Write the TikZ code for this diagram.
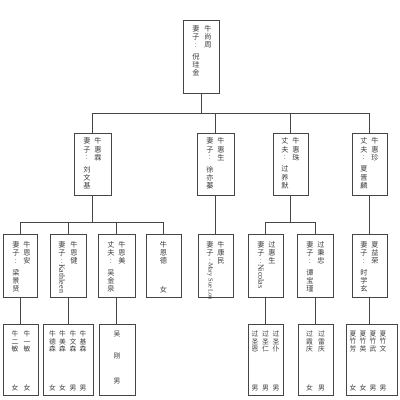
\documentclass[tikz,border=0pt]{standalone}
\usepackage{fontspec}
\setmainfont{Liberation Serif}
\newfontfamily\cjk{Noto Sans CJK SC}
\definecolor{linec}{HTML}{454545}
\definecolor{txtc}{HTML}{3C3C3C}
\newcommand\vcolon{\raisebox{0.4pt}{:}}
\begin{document}
\begin{tikzpicture}[x=1pt,y=-1pt,
  bx/.style={draw=linec,line width=0.9pt,inner sep=0pt},
  col/.style={font=\cjk\fontsize{7.2}{8.2}\selectfont,text=txtc,inner sep=0pt,align=center,anchor=north},
  scol/.style={font=\cjk\fontsize{6.8}{7.3}\selectfont,text=txtc,inner sep=0pt,align=center,anchor=north},
  lat/.style={font=\fontsize{8}{9}\selectfont,text=txtc,inner sep=0pt,rotate=-90,anchor=west},
  conn/.style={draw=linec,line width=0.9pt}]
\useasboundingbox (0,0) rectangle (400,400);
% ---------- boxes ----------
\node[bx,minimum width=36pt,minimum height=73pt] (A) at (201,56.5) {};
\node[bx,minimum width=37pt,minimum height=62pt] (B1) at (92.5,164) {};
\node[bx,minimum width=37pt,minimum height=62pt] (B2) at (215.5,164) {};
\node[bx,minimum width=35pt,minimum height=62pt] (B3) at (290.5,164) {};
\node[bx,minimum width=35pt,minimum height=62pt] (B4) at (369.5,164) {};
\node[bx,minimum width=34pt,minimum height=63pt] (C1) at (20,265.5) {};
\node[bx,minimum width=36pt,minimum height=63pt] (C2) at (68,265.5) {};
\node[bx,minimum width=37pt,minimum height=63pt] (C3) at (116.5,265.5) {};
\node[bx,minimum width=35pt,minimum height=63pt] (C4) at (163.5,265.5) {};
\node[bx,minimum width=35pt,minimum height=63pt] (C5) at (215.5,265.5) {};
\node[bx,minimum width=35pt,minimum height=63pt] (C6) at (265.5,265.5) {};
\node[bx,minimum width=36pt,minimum height=63pt] (C7) at (315,265.5) {};
\node[bx,minimum width=35pt,minimum height=63pt] (C8) at (369.5,265.5) {};
\node[bx,minimum width=35pt,minimum height=71pt] (D1) at (20.5,359.5) {};
\node[bx,minimum width=50pt,minimum height=71pt] (D2) at (68,359.5) {};
\node[bx,minimum width=36pt,minimum height=71pt] (D3) at (117,359.5) {};
\node[bx,minimum width=35pt,minimum height=71pt] (D4) at (265.5,359.5) {};
\node[bx,minimum width=35pt,minimum height=71pt] (D5) at (315.5,359.5) {};
\node[bx,minimum width=51pt,minimum height=71pt] (D6) at (371.5,359.5) {};
% ---------- connectors ----------
\draw[conn] (A.south) -- ++(0,20) coordinate (jA);
\draw[conn] (B1.north) |- (jA);
\draw[conn] (B2.north) |- (jA);
\draw[conn] (B3.north) |- (jA);
\draw[conn] (B4.north) |- (jA);
\draw[conn] (B1.south) -- ++(0,27) coordinate (jB1);
\draw[conn] (C1.north) |- (jB1);
\draw[conn] (C2.north) |- (jB1);
\draw[conn] (C3.north) |- (jB1);
\draw[conn] (C4.north) |- (jB1);
\draw[conn] (B2.south) -- (C5.north);
\draw[conn] (B3.south) -- ++(0,27) coordinate (jB3);
\draw[conn] (C6.north) |- (jB3);
\draw[conn] (C7.north) |- (jB3);
\draw[conn] (B4.south) -- (C8.north);
\draw[conn] (C1.south) -- (C1.south |- D1.north);
\draw[conn] (C2.south) -- (C2.south |- D2.north);
\draw[conn] (C3.south) -- (C3.south |- D3.north);
\draw[conn] (C6.south) -- (C6.south |- D4.north);
\draw[conn] (C7.south) -- (C7.south |- D5.north);
\draw[conn] (C8.south) -- (C8.south |- D6.north);
% ---------- level 1 text ----------
\node[col] (tA1) at (208,25.2) {牛\\尚\\周};
\node[col] (tA2) at (196,25.2) {妻\\子\\\vcolon\\[3.5pt]倪\\珪\\金};
% ---------- level 2 text ----------
\node[col] (tB1a) at (98,137.7) {牛\\惠\\霖};
\node[col] (tB1b) at (87,137.7) {妻\\子\\\vcolon\\[3.5pt]刘\\文\\基};
\node[col] (tB2a) at (221,137.7) {牛\\惠\\生};
\node[col] (tB2b) at (210,137.7) {妻\\子\\\vcolon\\[3.5pt]徐\\亦\\蓁};
\node[col] (tB3a) at (296,137.7) {牛\\惠\\珠};
\node[col] (tB3b) at (285,137.7) {丈\\夫\\\vcolon\\[3.5pt]过\\养\\默};
\node[col] (tB4a) at (375,137.7) {牛\\惠\\珍};
\node[col] (tB4b) at (364,137.7) {丈\\夫\\\vcolon\\[3.5pt]夏\\晋\\麟};
% ---------- level 3 text ----------
\node[col] (tC1a) at (27,241.2) {牛\\恩\\安};
\node[col] (tC1b) at (16,241.2) {妻\\子\\\vcolon\\[3.5pt]梁\\景\\贤};
\node[col] (tC2a) at (74,241.2) {牛\\恩\\健};
\node[col] (tC2b) at (62,241.2) {妻\\子\\\vcolon};
\node[lat] (tC2c) at (62,264) {Kathleen};
\node[col] (tC3a) at (122,241.2) {牛\\恩\\美};
\node[col] (tC3b) at (111,241.2) {丈\\夫\\\vcolon\\[3.5pt]吴\\金\\泉};
\node[col] (tC4a) at (163.5,241.2) {牛\\恩\\德};
\node[col] (tC4b) at (163.5,285.7) {女};
\node[col] (tC5a) at (221,241.2) {牛\\康\\民};
\node[col] (tC5b) at (210,241.2) {妻\\子\\\vcolon};
\node[lat,font=\fontsize{6.4}{7}\selectfont] (tC5c) at (210,263) {Mary Sue Lou};
\node[col] (tC6a) at (272,241.2) {过\\惠\\生};
\node[col] (tC6b) at (261,241.2) {妻\\子\\\vcolon};
\node[lat] (tC6c) at (261,264) {Nicolas};
\node[col] (tC7a) at (321,241.2) {过\\秉\\忠};
\node[col] (tC7b) at (310,241.2) {妻\\子\\\vcolon\\[3.5pt]谭\\宝\\瑾};
\node[col] (tC8a) at (375,241.2) {夏\\益\\荣};
\node[col] (tC8b) at (364,241.2) {妻\\子\\\vcolon\\[3.5pt]时\\学\\玄};
% ---------- level 4 text ----------
\node[scol] (tD1a) at (27,331) {牛\\一\\敏\\[32pt]女};
\node[scol] (tD1b) at (15,331) {牛\\二\\敏\\[32pt]女};
\node[scol] (tD2a) at (83,331) {牛\\基\\森\\[32pt]男};
\node[scol] (tD2b) at (73,331) {牛\\文\\森\\[32pt]男};
\node[scol] (tD2c) at (62.5,331) {牛\\美\\森\\[32pt]女};
\node[scol] (tD2d) at (52.5,331) {牛\\德\\森\\[32pt]女};
\node[scol] (tD3a) at (117,331) {吴\\[14.5pt]刚\\[17.5pt]男};
\node[scol] (tD4a) at (276,331) {过\\圣\\仆\\[32pt]男};
\node[scol] (tD4b) at (265.5,331) {过\\圣\\仁\\[32pt]男};
\node[scol] (tD4c) at (255,331) {过\\圣\\恩\\[32pt]男};
\node[scol] (tD5a) at (321.5,331) {过\\雷\\庆\\[32pt]男};
\node[scol] (tD5b) at (309.5,331) {过\\霞\\庆\\[32pt]女};
\node[scol] (tD6a) at (383,331) {夏\\竹\\文\\[32pt]男};
\node[scol] (tD6b) at (373,331) {夏\\竹\\武\\[32pt]男};
\node[scol] (tD6c) at (363,331) {夏\\竹\\英\\[32pt]女};
\node[scol] (tD6d) at (353,331) {夏\\竹\\芳\\[32pt]女};
\end{tikzpicture}
\end{document}
